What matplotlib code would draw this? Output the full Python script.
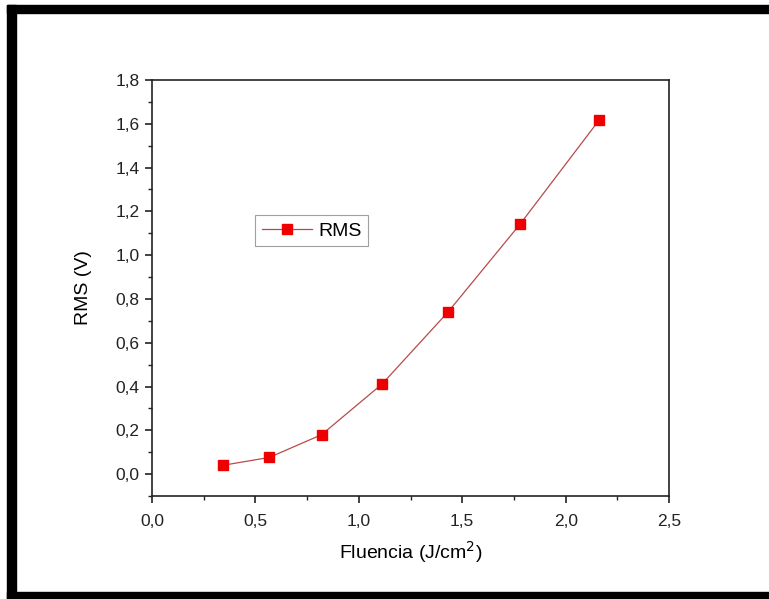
import matplotlib.pyplot as plt
from matplotlib.patches import Rectangle
from matplotlib.ticker import MultipleLocator, FuncFormatter

plt.rcParams['font.family'] = ['Liberation Sans', 'DejaVu Sans']

# data
fluencia = [0.342, 0.567, 0.820, 1.112, 1.431, 1.780, 2.162]
rms = [0.040, 0.076, 0.180, 0.411, 0.740, 1.142, 1.617]

fig = plt.figure(figsize=(7.69, 5.99), dpi=100)
ax = fig.add_axes([0.1977, 0.172, 0.6723, 0.6944])

ax.plot(fluencia, rms, color='#b84a4a', lw=0.9, marker='s', markersize=7.2,
        markerfacecolor='#ee0000', markeredgecolor='#ee0000', label='RMS')

ax.set_xlim(0, 2.5)
ax.set_ylim(-0.1, 1.8)
ax.xaxis.set_major_locator(MultipleLocator(0.5))
ax.xaxis.set_minor_locator(MultipleLocator(0.25))
ax.yaxis.set_major_locator(MultipleLocator(0.2))
ax.yaxis.set_minor_locator(MultipleLocator(0.1))

comma = FuncFormatter(lambda v, p: f'{v:.1f}'.replace('.', ','))
ax.xaxis.set_major_formatter(comma)
ax.yaxis.set_major_formatter(comma)

for s in ax.spines.values():
    s.set_linewidth(1.2)
    s.set_color('#222222')
ax.tick_params(which='major', direction='out', length=5, width=1.2,
               labelsize=12.5, colors='#222222', pad=4)
ax.tick_params(axis='x', which='major', pad=8)
ax.tick_params(which='minor', direction='out', length=3, width=1.0, colors='#222222')

ax.set_xlabel('Fluencia (J/cm$^2$)', fontsize=14, labelpad=7)
ax.set_ylabel('RMS (V)', fontsize=14, labelpad=17)

leg = ax.legend(loc='upper left', bbox_to_anchor=(0.199, 0.675), fontsize=14,
                frameon=True, fancybox=False, handlelength=2.6,
                borderpad=0.35, handletextpad=0.3, borderaxespad=0)
leg.get_frame().set_edgecolor('#888888')
leg.get_frame().set_linewidth(0.8)

# thick black frame around the image (top, left, bottom)
W, H = 769, 599
fig.patches.append(Rectangle((7 / W, 1 - 13 / H), 1, 8 / H, transform=fig.transFigure,
                             color='black', zorder=10))
fig.patches.append(Rectangle((7 / W, 0), 9 / W, 1 - 5 / H, transform=fig.transFigure,
                             color='black', zorder=10))
fig.patches.append(Rectangle((7 / W, 0), 1, 7 / H, transform=fig.transFigure,
                             color='black', zorder=10))

fig.savefig('out.png', dpi=100)
